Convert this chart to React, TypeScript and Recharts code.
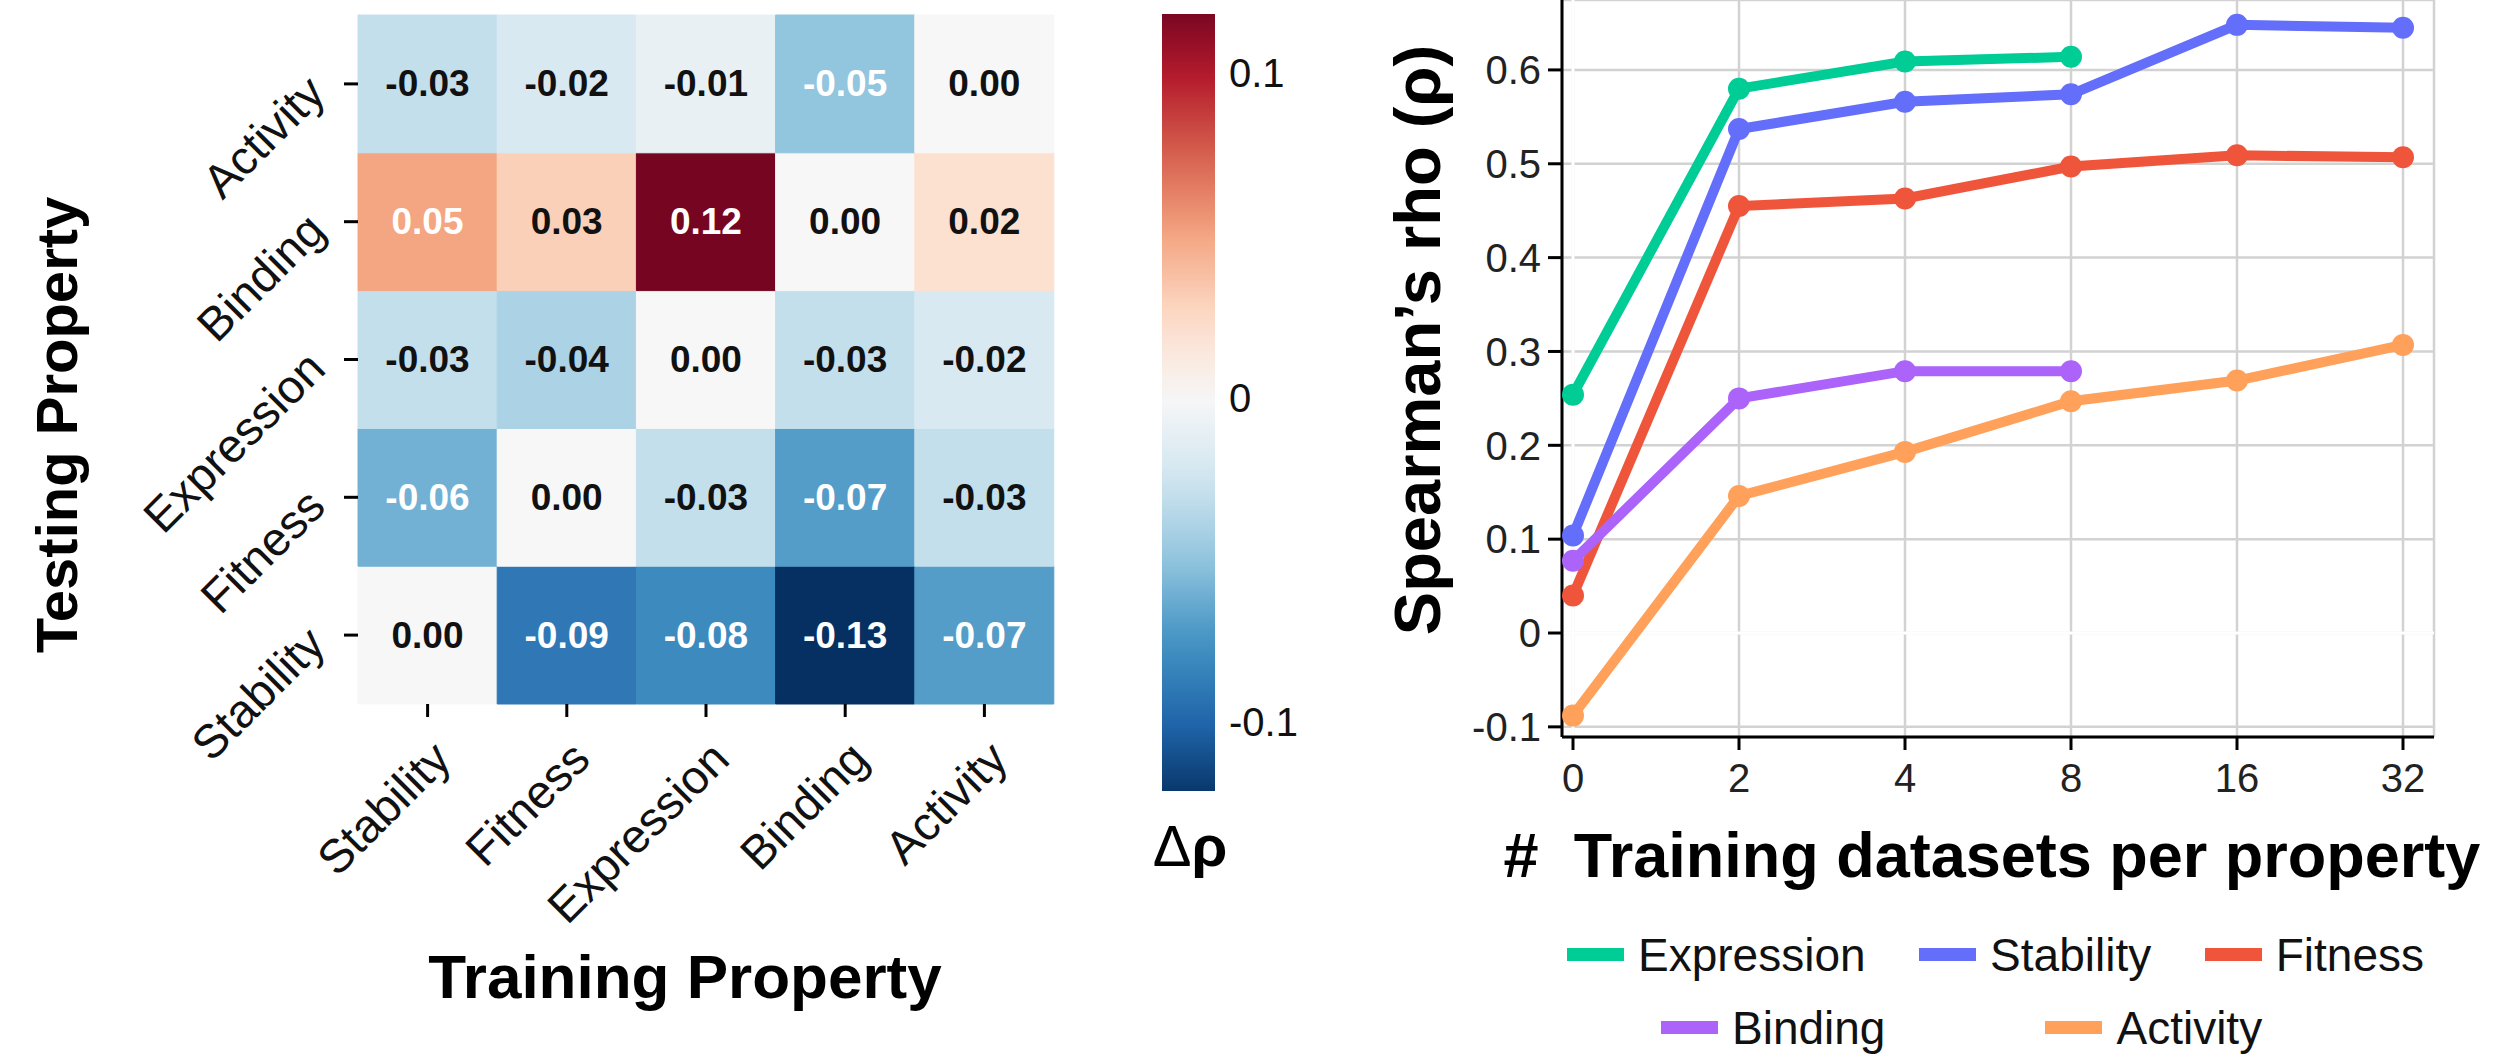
import React from "react"
import {
  BarChart,
  Bar,
  Cell,
  LabelList,
  XAxis,
  YAxis,
  LineChart,
  Line,
  CartesianGrid,
  ReferenceLine,
  Legend,
} from "recharts"

const FONT = '"Liberation Sans", Arial, Helvetica, sans-serif'

// ---- heatmap data ----
const trainProps = ["Stability", "Fitness", "Expression", "Binding", "Activity"]
// testing properties, top to bottom
const testProps = ["Activity", "Binding", "Expression", "Fitness", "Stability"]
const deltaActivity = [-0.03, -0.02, -0.01, -0.05, 0.0]
const deltaBinding = [0.05, 0.03, 0.12, 0.0, 0.02]
const deltaExpression = [-0.03, -0.04, 0.0, -0.03, -0.02]
const deltaFitness = [-0.06, 0.0, -0.03, -0.07, -0.03]
const deltaStability = [0.0, -0.09, -0.08, -0.13, -0.07]
const deltaRows = [deltaActivity, deltaBinding, deltaExpression, deltaFitness, deltaStability]

const cbTicks = [-0.1, 0, 0.1]
const cbMin = -0.1213
const cbMax = 0.1182

// ---- line chart data ----
const nTrain = ["0", "2", "4", "8", "16", "32"]
const rhoExpression = [0.254, 0.58, 0.609, 0.614, null, null]
const rhoStability = [0.104, 0.537, 0.566, 0.574, 0.648, 0.645]
const rhoFitness = [0.04, 0.455, 0.463, 0.497, 0.509, 0.507]
const rhoBinding = [0.077, 0.25, 0.279, 0.279, null, null]
const rhoActivity = [-0.088, 0.146, 0.193, 0.247, 0.269, 0.307]
const rhoTicks = [-0.1, 0, 0.1, 0.2, 0.3, 0.4, 0.5, 0.6]

const series = [
  { name: "Expression", color: "#00CC96", values: rhoExpression },
  { name: "Stability", color: "#636EFA", values: rhoStability },
  { name: "Fitness", color: "#EF553B", values: rhoFitness },
  { name: "Binding", color: "#AB63FA", values: rhoBinding },
  { name: "Activity", color: "#FFA15A", values: rhoActivity },
]

// RdBu_r, centred on zero
const RDBU_R = ["#053061", "#2166ac", "#4393c3", "#92c5de", "#d1e5f0", "#f7f7f7", "#fddbc7", "#f4a582", "#d6604d", "#b2182b", "#67001f"]
const VR = 0.125

function rdbu(v: number) {
  let t = (v + VR) / (2 * VR)
  t = Math.max(0, Math.min(1, t))
  const p = t * 10
  const i = Math.min(9, Math.floor(p))
  const f = p - i
  const a = RDBU_R[i]
  const b = RDBU_R[i + 1]
  const ch = (s: string, k: number) => parseInt(s.slice(1 + 2 * k, 3 + 2 * k), 16)
  const c = [0, 1, 2].map((k) => Math.round(ch(a, k) + (ch(b, k) - ch(a, k)) * f))
  return `rgb(${c[0]},${c[1]},${c[2]})`
}

const heatData = trainProps.map((t, j) => {
  const row: any = { train: t }
  testProps.forEach((s, i) => {
    row[s] = 1
    row[s + "_d"] = deltaRows[i][j]
  })
  return row
})

const cbData = [{ k: "cb", span: [cbMin, cbMax] }]
const cbStops = Array.from({ length: 25 }, (_, i) => {
  const v = cbMax - ((cbMax - cbMin) * i) / 24
  return { off: i / 24, color: rdbu(v) }
})

const lineData = nTrain.map((n, i) => {
  const row: any = { n }
  series.forEach((s) => {
    row[s.name] = s.values[i]
  })
  return row
})

const RowTick = (p: any) => {
  const { x, y, payload } = p
  const label = testProps[Math.round(4.5 - payload.value)]
  return (
    <text
      x={x}
      y={y}
      textAnchor="end"
      dominantBaseline="central"
      transform={`rotate(-45 ${x} ${y})`}
      fontSize={47}
      fontFamily={FONT}
      fill="#111"
    >
      {label}
    </text>
  )
}

const ColTick = (p: any) => {
  const { x, y, payload } = p
  const ax = x + 14
  return (
    <text
      x={ax}
      y={y}
      textAnchor="end"
      dominantBaseline="central"
      transform={`rotate(-45 ${ax} ${y})`}
      fontSize={47}
      fontFamily={FONT}
      fill="#111"
    >
      {payload.value}
    </text>
  )
}

const cellLabel = (p: any) => {
  const vb = p.viewBox || p
  const v = Number(p.value)
  return (
    <text
      x={vb.x + vb.width / 2}
      y={vb.y + vb.height / 2}
      textAnchor="middle"
      dominantBaseline="central"
      fontSize={37}
      fontWeight="bold"
      fontFamily={FONT}
      fill={Math.abs(v) >= 0.05 ? "#fff" : "#111"}
    >
      {v.toFixed(2)}
    </text>
  )
}

// legend keeps the series order (Expression, Stability, Fitness / Binding, Activity)
const legendContent = () => {
  const item = (e: { name: string; color: string }) => (
    <div key={e.name} style={{ display: "flex", alignItems: "center", height: 53 }}>
      <div style={{ width: 57, height: 13, background: e.color, marginRight: 14 }} />
      <span style={{ fontSize: 46, color: "#111", fontFamily: FONT }}>{e.name}</span>
    </div>
  )
  return (
    <div>
      <div style={{ display: "flex", justifyContent: "space-between" }}>{series.slice(0, 3).map(item)}</div>
      <div style={{ display: "flex", gap: 160, marginLeft: 94, marginTop: 20 }}>{series.slice(3).map(item)}</div>
    </div>
  )
}

const title: React.CSSProperties = {
  position: "absolute",
  fontFamily: FONT,
  fontWeight: "bold",
  whiteSpace: "pre",
  color: "#000",
  lineHeight: 1,
}

export default function App() {
  return (
    <div
      style={{
        position: "absolute",
        left: 0,
        top: 0,
        width: 2504,
        height: 1058,
        background: "#fff",
        overflow: "hidden",
        fontFamily: FONT,
      }}
    >
      {/* heatmap */}
      <div style={{ position: "absolute", left: 0, top: 0 }}>
        <BarChart
          width={1100}
          height={1058}
          data={heatData}
          margin={{ top: 15, right: 46, bottom: 254, left: 158 }}
          barCategoryGap={0}
        >
          <XAxis
            dataKey="train"
            interval={0}
            height={100}
            axisLine={false}
            tickSize={13}
            tickMargin={33}
            tickLine={{ stroke: "#000", strokeWidth: 3 }}
            tick={ColTick}
          />
          <YAxis
            type="number"
            domain={[0, 5]}
            ticks={[0.5, 1.5, 2.5, 3.5, 4.5]}
            width={200}
            axisLine={false}
            tickSize={14}
            tickMargin={28}
            tickLine={{ stroke: "#000", strokeWidth: 3 }}
            tick={RowTick}
          />
          {[...testProps].reverse().map((s) => (
            <Bar key={s} dataKey={s} stackId="h" isAnimationActive={false}>
              {heatData.map((r, j) => (
                <Cell key={j} fill={rdbu(r[s + "_d"])} stroke={rdbu(r[s + "_d"])} strokeWidth={1} />
              ))}
              <LabelList dataKey={s + "_d"} content={cellLabel} />
            </Bar>
          ))}
        </BarChart>
      </div>

      {/* colour bar */}
      <div style={{ position: "absolute", left: 1100, top: 0 }}>
        <BarChart
          width={260}
          height={1058}
          data={cbData}
          margin={{ top: 14, right: 45, bottom: 267, left: 62 }}
          barCategoryGap={0}
        >
          <defs>
            <linearGradient id="cbGrad" x1="0" y1="0" x2="0" y2="1">
              {cbStops.map((s, i) => (
                <stop key={i} offset={s.off} stopColor={s.color} />
              ))}
            </linearGradient>
          </defs>
          <XAxis dataKey="k" hide />
          <YAxis
            orientation="right"
            type="number"
            domain={[cbMin, cbMax]}
            allowDataOverflow
            ticks={cbTicks}
            width={100}
            axisLine={false}
            tickLine={false}
            tickSize={0}
            tickMargin={14}
            tickFormatter={(v) => (v === 0 ? "0" : String(v))}
            tick={{ fontSize: 40, fill: "#111", fontFamily: FONT, textAnchor: "start" }}
          />
          <Bar dataKey="span" fill="url(#cbGrad)" isAnimationActive={false} />
        </BarChart>
      </div>

      <div style={{ ...title, left: 57, top: 425, fontSize: 58, transform: "translate(-50%, -50%) rotate(-90deg)" }}>
        Testing Property
      </div>
      <div style={{ ...title, left: 685, top: 977, fontSize: 62, transform: "translate(-50%, -50%)" }}>
        Training Property
      </div>
      <div style={{ ...title, left: 1190, top: 846, fontSize: 58, transform: "translate(-50%, -50%)" }}>
        <span style={{ fontWeight: "normal" }}>Δ</span>ρ
      </div>

      {/* line chart */}
      <div style={{ position: "absolute", left: 1300, top: 0 }}>
        <LineChart
          width={1204}
          height={1058}
          data={lineData}
          margin={{ top: 0, right: 70, bottom: 261, left: 142 }}
        >
          <CartesianGrid stroke="#d2d2d2" strokeWidth={2.5} />
          <XAxis
            dataKey="n"
            padding={{ left: 11, right: 31 }}
            interval={0}
            height={60}
            axisLine={{ stroke: "#000", strokeWidth: 3 }}
            tickSize={13}
            tickMargin={14}
            tickLine={{ stroke: "#000", strokeWidth: 3 }}
            tick={{ fontSize: 40, fill: "#222", fontFamily: FONT }}
          />
          <YAxis
            type="number"
            domain={[-0.1108, 0.6745]}
            allowDataOverflow
            ticks={rhoTicks}
            width={120}
            axisLine={{ stroke: "#000", strokeWidth: 3 }}
            tickSize={14}
            tickMargin={7}
            tickLine={{ stroke: "#000", strokeWidth: 3 }}
            tickFormatter={(v) => (v === 0 ? "0" : v.toFixed(1))}
            tick={{ fontSize: 40, fill: "#222", fontFamily: FONT }}
          />
          <YAxis
            yAxisId="r"
            orientation="right"
            type="number"
            domain={[-0.1108, 0.6745]}
            width={0}
            tick={false}
            tickLine={false}
            axisLine={{ stroke: "#000", strokeWidth: 3 }}
          />
          <ReferenceLine y={0} stroke="#fff" strokeWidth={3} />
          <ReferenceLine x="0" stroke="#fff" strokeWidth={3} />
          {series.map((s) => (
            <Line
              key={s.name}
              dataKey={s.name}
              stroke={s.color}
              strokeWidth={10}
              dot={{ r: 11, fill: s.color, stroke: s.color, strokeWidth: 0 }}
              activeDot={false}
              isAnimationActive={false}
            />
          ))}
          <Legend
            verticalAlign="middle"
            align="center"
            layout="horizontal"
            content={legendContent}
            wrapperStyle={{ top: 928, left: 267, width: 857 }}
          />
        </LineChart>
      </div>

      <div style={{ ...title, left: 1417, top: 340, fontSize: 65, transform: "translate(-50%, -50%) rotate(-90deg)" }}>
        Spearman’s rho (ρ)
      </div>
      <div style={{ ...title, left: 1992, top: 855, fontSize: 63, transform: "translate(-50%, -50%)" }}>
        {"#  Training datasets per property"}
      </div>
    </div>
  )
}
